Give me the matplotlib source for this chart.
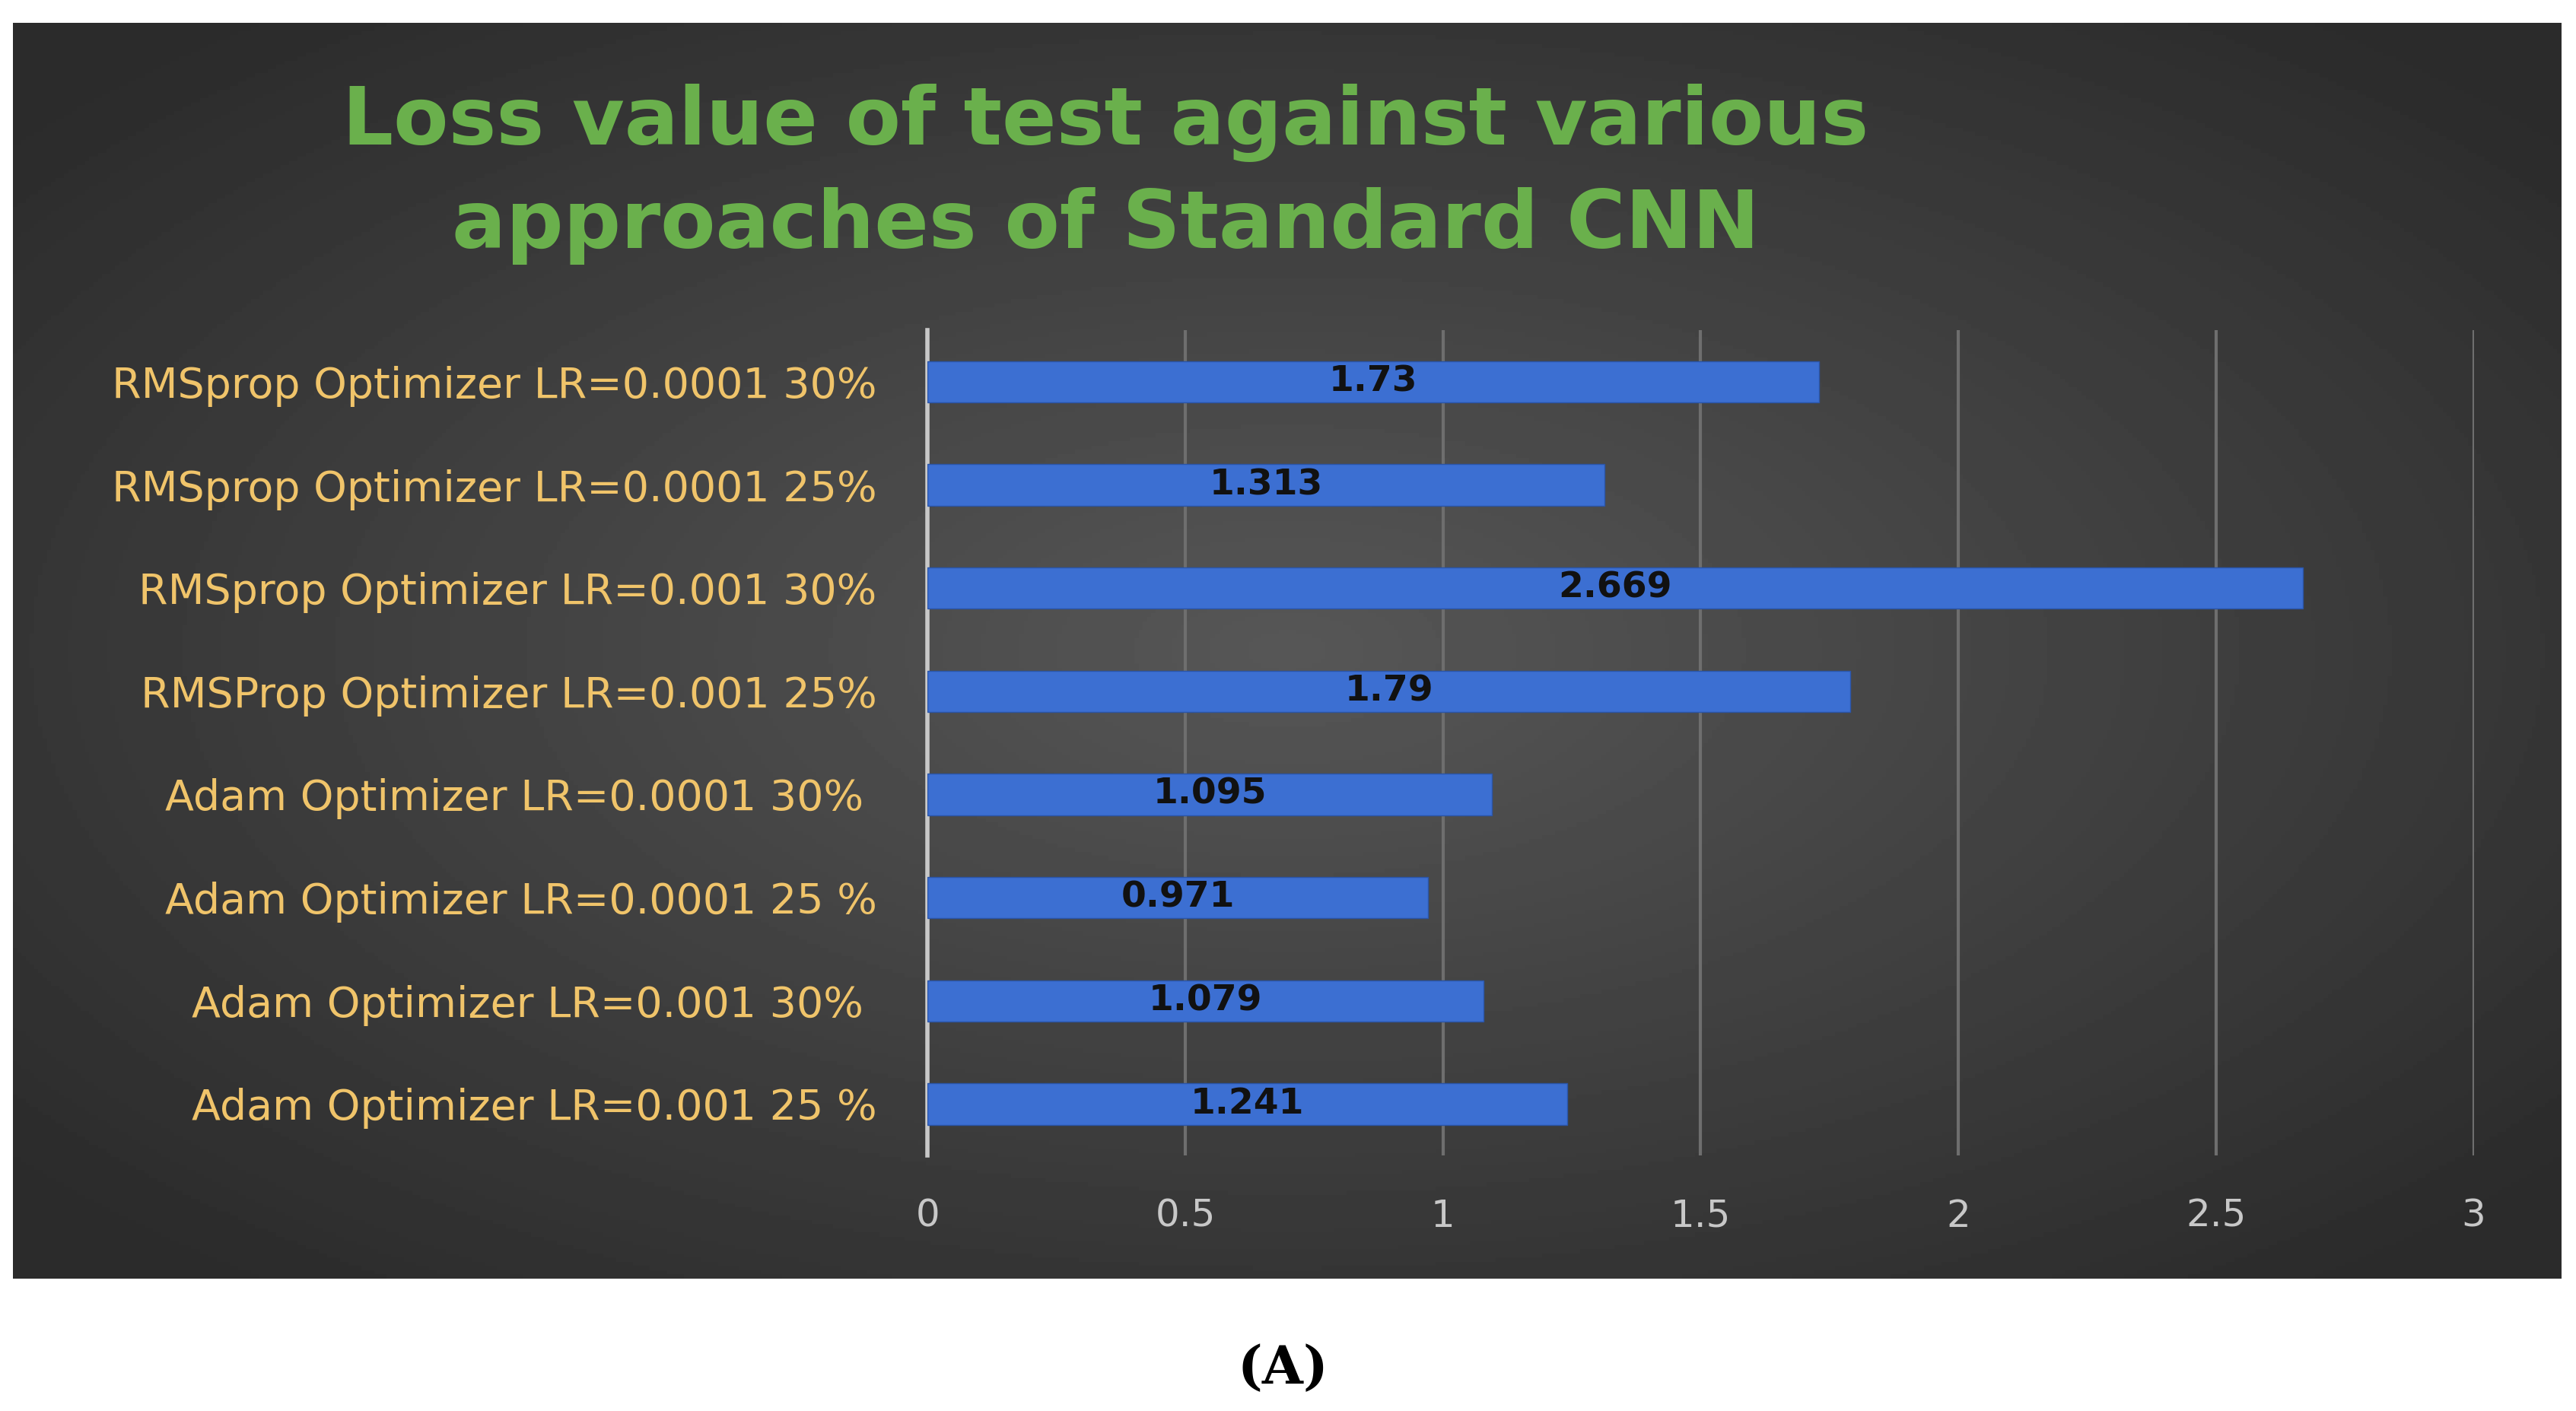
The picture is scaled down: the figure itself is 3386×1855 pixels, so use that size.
import numpy as np
import matplotlib.pyplot as plt

labels = ["Adam Optimizer LR=0.001 25 %", "Adam Optimizer LR=0.001 30% ",
          "Adam Optimizer LR=0.0001 25 %", "Adam Optimizer LR=0.0001 30% ",
          "RMSProp Optimizer LR=0.001 25%", "RMSprop Optimizer LR=0.001 30%",
          "RMSprop Optimizer LR=0.0001 25%", "RMSprop Optimizer LR=0.0001 30%"]
values = [1.241, 1.079, 0.971, 1.095, 1.79, 2.669, 1.313, 1.73]
value_text = ["1.241", "1.079", "0.971", "1.095", "1.79", "2.669", "1.313", "1.73"]

fig = plt.figure(figsize=(33.87, 18.55), dpi=100)

# dark panel with radial gradient
bg = fig.add_axes([0.005, 0.094, 0.989, 0.89])
yy, xx = np.mgrid[-1:1:300j, -1:1:600j]
r = np.sqrt(xx**2 + yy**2)
bg.imshow(0.34 - 0.17 * np.clip(r / 1.3, 0, 1), cmap='gray', vmin=0, vmax=1,
          aspect='auto', extent=[0, 1, 0, 1])
bg.axis('off')

ax = fig.add_axes([0.360, 0.181, 0.600, 0.585])
ax.patch.set_alpha(0)
y = np.arange(len(values))
ax.barh(y, values, height=0.4, color='#3c6fd2', edgecolor='#2a55a8', zorder=3)
for yi, v, t in zip(y, values, value_text):
    ax.text(v / 2, yi, t, ha='center', va='center', fontsize=34,
            fontweight='bold', color='#111111', zorder=4)
ax.set_xlim(0, 3)
ax.set_ylim(-0.5, len(values) - 0.5)
ax.set_xticks([0, 0.5, 1, 1.5, 2, 2.5, 3])
ax.set_xticklabels(['0', '0.5', '1', '1.5', '2', '2.5', '3'])
ax.set_yticks(y)
ax.set_yticklabels(labels)
ax.tick_params(axis='x', colors='#c8c8c8', labelsize=36, length=0, pad=40)
ax.tick_params(axis='y', colors='#f0c46a', labelsize=40, length=0, pad=48)
ax.grid(axis='x', color='#6e6e6e', linewidth=3, zorder=0)
for s in ['top', 'right', 'bottom']:
    ax.spines[s].set_visible(False)
ax.spines['left'].set_color('#c8c8c8')
ax.spines['left'].set_linewidth(4)

fig.text(0.429, 0.913, "Loss value of test against various", ha='center', va='center',
         fontsize=76, fontweight='bold', color='#6ab04c')
fig.text(0.429, 0.840, "approaches of Standard CNN", ha='center', va='center',
         fontsize=76, fontweight='bold', color='#6ab04c')

fig.text(0.498, 0.030, "(A)", ha='center', va='center', fontsize=50,
         fontweight='bold', family='DejaVu Serif', color='black')

fig.savefig('out.png', dpi=100, facecolor='white')
